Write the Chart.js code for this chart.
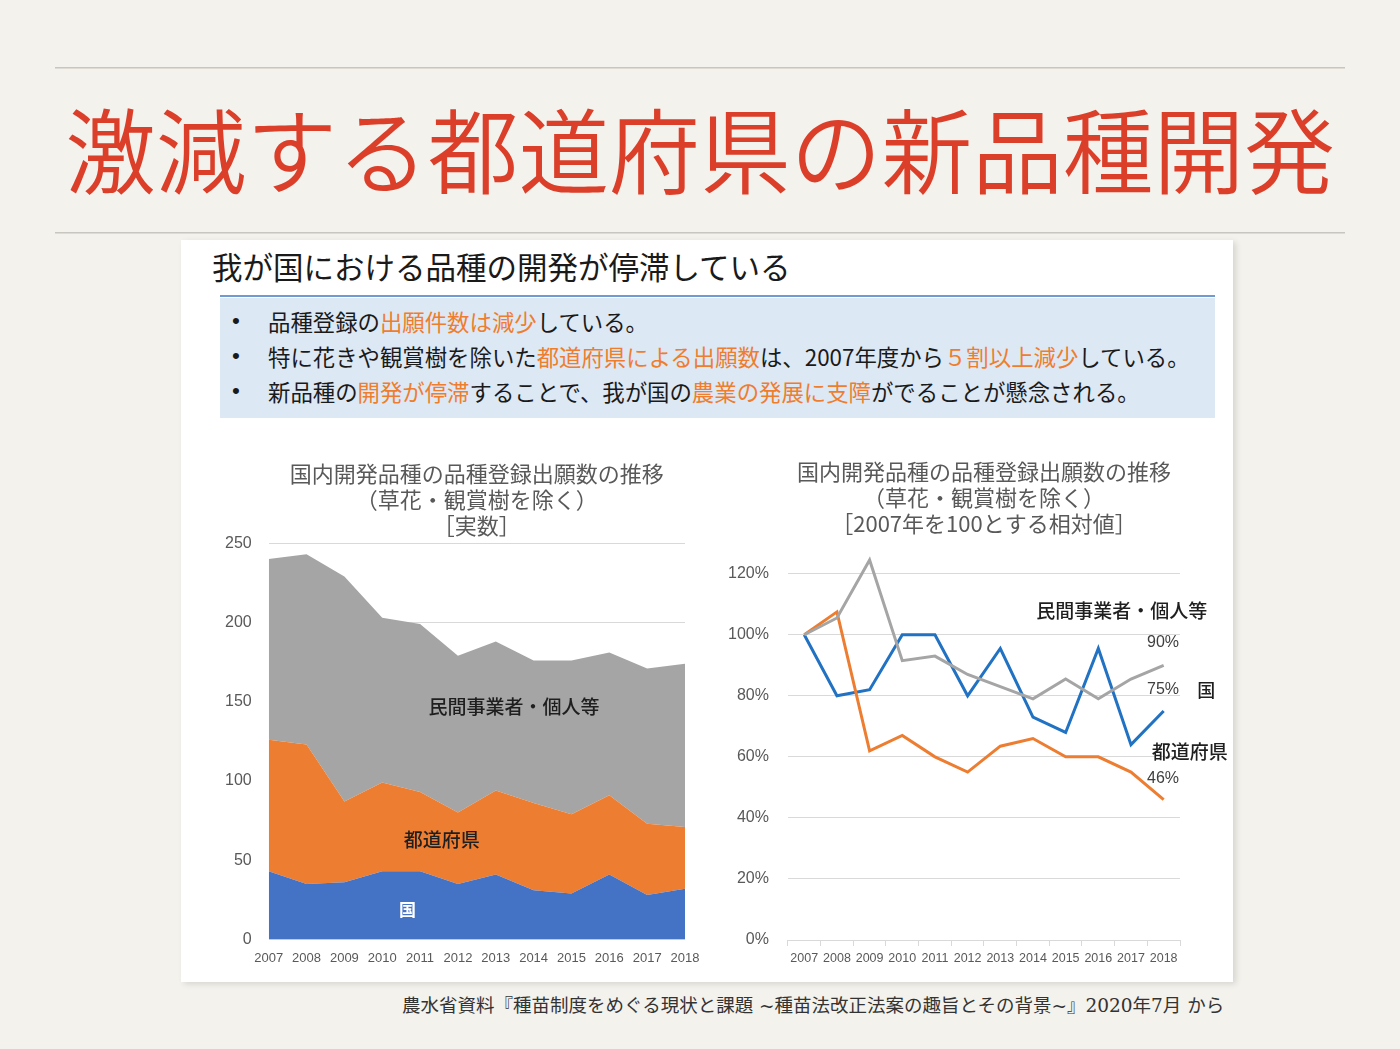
<!DOCTYPE html>
<html lang="ja">
<head>
<meta charset="utf-8">
<script src="https://cdn.jsdelivr.net/npm/chart.js@4.4.1/dist/chart.umd.min.js"></script>
<style>
  html, body { margin: 0; padding: 0; }
  body { width: 1400px; height: 1049px; background: #f4f2ed; position: relative; overflow: hidden;
         font-family: "Noto Sans CJK JP", "Noto Sans", sans-serif; }
  .rule { position: absolute; left: 55px; width: 1290px; height: 1px; background: #c9c6c0; border-bottom: 1px solid #dedbd5; }
  #mainTitle { position: absolute; left: 0; top: 95px; width: 1400px; height: 104px; line-height: 104px;
               font-size: 93px; font-weight: 350; color: #db3f2a; white-space: nowrap; }
  #mainTitle span { display: inline-block; transform-origin: 0 50%; }
  #panel { position: absolute; left: 181px; top: 240px; width: 1052px; height: 742px; background: #ffffff;
           box-shadow: 3px 2px 6px rgba(0,0,0,0.12); }
  #heading { position: absolute; left: 212px; top: 250px; font-size: 30.5px; line-height: 32px; color: #1a1a1a; white-space: nowrap; }
  #blueRule { position: absolute; left: 220px; top: 295px; width: 995px; height: 2px; background: #6f9bd1; }
  #box { position: absolute; left: 220px; top: 298px; width: 995px; height: 120px; background: #dde8f5; }
  .bl { position: absolute; left: 268px; font-size: 22.4px; line-height: 30px; color: #1a1a1a; white-space: nowrap; }
  .bl::before { content: "•"; position: absolute; left: -36px; font-family: "Liberation Sans", sans-serif; }
  .hl { color: #ef7d2e; }
  #footer { position: absolute; left: 402px; top: 994px; font-size: 18.5px; line-height: 24px; color: #333;
            font-family: "DejaVu Serif", "Liberation Serif", "Noto Sans CJK JP", serif; white-space: nowrap; }
  .cw { position: absolute; }
</style>
</head>
<body>
<div class="rule" style="top:67px"></div>
<div id="mainTitle"><span id="mt">激減する都道府県の新品種開発</span></div>
<div class="rule" style="top:232px"></div>

<div id="panel"></div>
<div id="heading">我が国における品種の開発が停滞している</div>
<div id="blueRule"></div>
<div id="box"></div>
<div class="bl" style="top:306px">品種登録の<span class="hl">出願件数は減少</span>している。</div>
<div class="bl" style="top:341px">特に花きや観賞樹を除いた<span class="hl">都道府県による出願数</span>は、2007年度から<span class="hl">５割以上減少</span>している。</div>
<div class="bl" style="top:376px">新品種の<span class="hl">開発が停滞</span>することで、我が国の<span class="hl">農業の発展に支障</span>がでることが懸念される。</div>

<div class="cw" style="left:200px; top:455px; width:510px; height:525px;"><canvas id="left"></canvas></div>
<div class="cw" style="left:700px; top:455px; width:540px; height:525px;"><canvas id="right"></canvas></div>

<div id="footer">農水省資料『種苗制度をめぐる現状と課題 ~種苗法改正法案の趣旨とその背景~』2020年7月 から</div>

<script>
// ---- data ----
const years = ['2007','2008','2009','2010','2011','2012','2013','2014','2015','2016','2017','2018'];
const seriesNames = ['国', '都道府県', '民間事業者・個人等'];
// actual counts (stacked)
const kuniCount    = [43, 35, 36, 43, 43, 35, 41, 31, 29, 41, 28, 32];
const prefCount    = [83, 88, 51, 56, 50, 45, 53, 55, 50, 50, 45, 39];
const privateCount = [114, 120, 142, 104, 106, 99, 94, 90, 97, 90, 98, 103];
// relative to 2007 = 100%
const kuniRel    = [1.00, 0.80, 0.82, 1.00, 1.00, 0.80, 0.955, 0.73, 0.68, 0.955, 0.64, 0.75];
const prefRel    = [1.00, 1.075, 0.62, 0.67, 0.60, 0.55, 0.635, 0.66, 0.60, 0.60, 0.55, 0.46];
const privateRel = [1.00, 1.055, 1.245, 0.915, 0.93, 0.87, 0.83, 0.79, 0.855, 0.79, 0.855, 0.90];
const leftTickValues  = [0, 50, 100, 150, 200, 250];
const rightTickValues = [0, 0.2, 0.4, 0.6, 0.8, 1.0, 1.2];
const leftTitle  = ['国内開発品種の品種登録出願数の推移', '（草花・観賞樹を除く）', '［実数］'];
const rightTitle = ['国内開発品種の品種登録出願数の推移', '（草花・観賞樹を除く）', '［2007年を100とする相対値］'];

// fit main title width
(function(){
  const s = document.getElementById('mt');
  const w = s.getBoundingClientRect().width;
  const target = 1270;
  s.style.transform = 'scaleX(' + (target / w) + ')';
  s.style.marginLeft = '65px';
})();

const CJK = '"Noto Sans CJK JP", sans-serif';
const NUM = '"Liberation Sans", "Noto Sans CJK JP", sans-serif';
const GREY_TXT = '#595959';

function labelPlugin(id, items) {
  return {
    id: id,
    afterDatasetsDraw(chart) {
      const ctx = chart.ctx, xs = chart.scales.x, ys = chart.scales.y;
      ctx.save();
      ctx.textAlign = 'center';
      ctx.textBaseline = 'middle';
      items.forEach(it => {
        ctx.font = it.font;
        ctx.fillStyle = it.color;
        ctx.fillText(it.text, xs.getPixelForValue(it.x), ys.getPixelForValue(it.y));
      });
      ctx.restore();
    }
  };
}

const titleOpts = (lines, top, bottom) => ({
  display: true, text: lines, color: GREY_TXT, fullSize: false,
  font: { family: CJK, size: 22, weight: 'normal', lineHeight: 1.2 },
  padding: { top: top, bottom: bottom }
});

// ---- left: stacked area ----
new Chart(document.getElementById('left'), {
  type: 'line',
  data: {
    labels: years,
    datasets: [
      { label: seriesNames[0], data: kuniCount, backgroundColor: '#4472c4', borderWidth: 0, fill: 'origin', pointRadius: 0 },
      { label: seriesNames[1], data: prefCount, backgroundColor: '#ed7d31', borderWidth: 0, fill: '-1', pointRadius: 0 },
      { label: seriesNames[2], data: privateCount, backgroundColor: '#a5a5a5', borderWidth: 0, fill: '-1', pointRadius: 0 }
    ]
  },
  options: {
    responsive: true, maintainAspectRatio: false, animation: false,
    layout: { padding: { left: 8, right: 25, top: 0, bottom: 11 } },
    plugins: { legend: { display: false }, tooltip: { enabled: false }, title: titleOpts(leftTitle, 5, 4) },
    elements: { line: { tension: 0 } },
    scales: {
      x: { offset: false, grid: { display: false }, border: { display: false },
           ticks: { color: GREY_TXT, font: { family: NUM, size: 13 }, padding: 3, autoSkip: false, maxRotation: 0 } },
      y: { stacked: true, min: 0, max: 250,
           afterBuildTicks: (ax) => { ax.ticks = leftTickValues.map(v => ({ value: v })); },
           grid: { color: '#d9d9d9', drawTicks: false }, border: { display: false },
           ticks: { color: GREY_TXT, font: { family: NUM, size: 16 }, padding: 17 } }
    }
  },
  plugins: [labelPlugin('leftLabels', [
    { text: seriesNames[2], x: 6.48, y: 147, font: '500 19px ' + CJK, color: '#1f1f1f' },
    { text: seriesNames[1], x: 4.57, y: 63, font: '500 19px ' + CJK, color: '#1f1f1f' },
    { text: seriesNames[0], x: 3.67, y: 19, font: 'bold 17px ' + CJK, color: '#ffffff' }
  ])]
});

// ---- right: relative lines ----
const lastPct = (arr) => Math.round(arr[arr.length - 1] * 100) + '%';
new Chart(document.getElementById('right'), {
  type: 'line',
  data: {
    labels: years,
    datasets: [
      { label: seriesNames[2], data: privateRel, borderColor: '#a5a5a5', borderWidth: 3, pointRadius: 0, fill: false },
      { label: seriesNames[1], data: prefRel, borderColor: '#ed7d31', borderWidth: 3, pointRadius: 0, fill: false },
      { label: seriesNames[0], data: kuniRel, borderColor: '#2272c3', borderWidth: 3, pointRadius: 0, fill: false }
    ]
  },
  options: {
    responsive: true, maintainAspectRatio: false, animation: false,
    layout: { padding: { left: 9, right: 60, top: 0, bottom: 9 } },
    plugins: { legend: { display: false }, tooltip: { enabled: false }, title: titleOpts(rightTitle, 3, 6) },
    elements: { line: { tension: 0 } },
    scales: {
      x: { offset: true,
           grid: { offset: true, drawOnChartArea: false, drawTicks: true, tickLength: 6, color: '#d9d9d9' },
           border: { color: '#d9d9d9' },
           ticks: { color: GREY_TXT, font: { family: NUM, size: 12.5 }, padding: 5, autoSkip: false, maxRotation: 0 } },
      y: { min: 0, max: 1.3,
           afterBuildTicks: (ax) => { ax.ticks = rightTickValues.map(v => ({ value: v })); },
           grid: { color: '#d9d9d9', drawTicks: false }, border: { display: false },
           ticks: { color: GREY_TXT, font: { family: NUM, size: 16 }, padding: 19,
                    callback: (v) => Math.round(v * 100) + '%' } }
    }
  },
  plugins: [labelPlugin('rightLabels', [
    { text: seriesNames[2], x: 9.72, y: 1.078, font: '500 19px ' + CJK, color: '#1f1f1f' },
    { text: lastPct(privateRel), x: 10.98, y: 0.973, font: '16px ' + NUM, color: '#404040' },
    { text: lastPct(kuniRel), x: 10.98, y: 0.819, font: '16px ' + NUM, color: '#404040' },
    { text: seriesNames[0], x: 12.3, y: 0.819, font: '500 18px ' + CJK, color: '#1f1f1f' },
    { text: seriesNames[1], x: 11.8, y: 0.618, font: '500 19px ' + CJK, color: '#1f1f1f' },
    { text: lastPct(prefRel), x: 10.98, y: 0.53, font: '16px ' + NUM, color: '#404040' }
  ])]
});
</script>
</body>
</html>
